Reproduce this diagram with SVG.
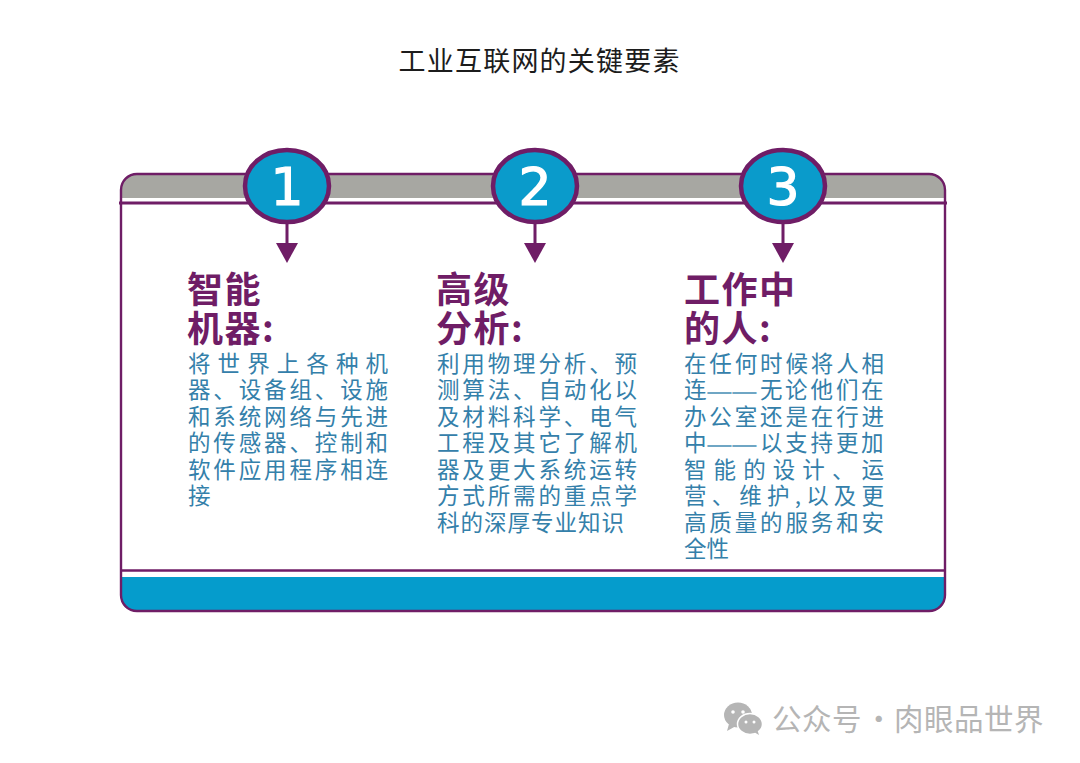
<svg xmlns="http://www.w3.org/2000/svg" width="1080" height="763" viewBox="0 0 1080 763">
<style>
text{font-family:"Noto Sans CJK SC","Liberation Sans",sans-serif}
.t{font-family:"Liberation Serif","Noto Sans CJK SC",serif;font-size:27px;fill:#1c1c1c}
.h{font-size:36px;font-weight:700;fill:#6f1d66;letter-spacing:1.500px}
.b{font-size:22.500px;fill:#3480aa;font-weight:400}
.d{font-size:30px;fill:#6fa6c4}
.n{font-family:"DejaVu Sans",sans-serif;font-size:52px;fill:#fff;stroke:#fff;stroke-width:1.200;text-anchor:middle}
.c{fill:#0a9bcb;stroke:#6f1d66;stroke-width:4.500}
.l{stroke:#6f1d66;fill:none}
.a{fill:#6f1d66}
.w{font-size:29.500px;fill:#b5b5b5;font-weight:400;letter-spacing:.5px}
</style>
<rect width="1080" height="763" fill="#fff"/>
<text class="t" x="539" y="71" text-anchor="middle" textLength="281" lengthAdjust="spacing">工业互联网的关键要素</text>

<g id="panel">
<path d="M121 198V190Q121 174 137 174H929Q945 174 945 190V198Z" fill="#a7a7a2"/>
<path d="M121 577H945V595Q945 611 929 611H137Q121 611 121 595Z" fill="#059ccc"/>
<rect x="121" y="174" width="824" height="437" rx="16" class="l" stroke-width="2.400"/>
<path d="M119 203H947" class="l" stroke-width="3"/>
<path d="M121 570.500H945" class="l" stroke-width="2.500"/>
</g>

<g id="connectors">
<path d="M287 224V245M535 224V245M783 224V245" class="l" stroke-width="3"/>
<path d="M276 243H298L287 263Z" class="a"/>
<path d="M524 243H546L535 263Z" class="a"/>
<path d="M772 243H794L783 263Z" class="a"/>
</g>

<g id="node-1">
<ellipse class="c" cx="287" cy="186" rx="42" ry="36"/>
<text class="n" x="287" y="205">1</text>
<text class="h" x="187" y="303">智能</text>
<text class="h" x="187" y="342">机器:</text>
<text class="b" x="188" y="372" textLength="200">将世界上各种机</text>
<text class="b" x="188" y="398" textLength="200">器、设备组、设施</text>
<text class="b" x="188" y="425" textLength="200">和系统网络与先进</text>
<text class="b" x="188" y="451" textLength="200">的传感器、控制和</text>
<text class="b" x="188" y="478" textLength="200">软件应用程序相连</text>
<text class="b" x="188" y="504">接</text>
</g>

<g id="node-2">
<ellipse class="c" cx="535" cy="186" rx="42" ry="36"/>
<text class="n" x="535" y="205">2</text>
<text class="h" x="436" y="303">高级</text>
<text class="h" x="436" y="342">分析:</text>
<text class="b" x="437" y="372" textLength="200">利用物理分析、预</text>
<text class="b" x="437" y="398" textLength="200">测算法、自动化以</text>
<text class="b" x="437" y="425" textLength="200">及材料科学、电气</text>
<text class="b" x="437" y="451" textLength="200">工程及其它了解机</text>
<text class="b" x="437" y="478" textLength="200">器及更大系统运转</text>
<text class="b" x="437" y="504" textLength="200">方式所需的重点学</text>
<text class="b" x="437" y="531" textLength="187">科的深厚专业知识</text>
</g>

<g id="node-3">
<ellipse class="c" cx="783" cy="186" rx="42" ry="36"/>
<text class="n" x="783" y="205">3</text>
<text class="h" x="684" y="303">工作中</text>
<text class="h" x="684" y="342">的人:</text>
<text class="b" x="684" y="372" textLength="200">在任何时候将人相</text>
<text class="b" x="684" y="398"><tspan x="684">连</tspan><tspan class="d" x="706" y="401">—</tspan><tspan class="d" x="731" y="401">—</tspan><tspan x="760" y="398">无</tspan><tspan x="785">论</tspan><tspan x="810.500">他</tspan><tspan x="836">们</tspan><tspan x="861">在</tspan></text>
<text class="b" x="684" y="425" textLength="200">办公室还是在行进</text>
<text class="b" x="684" y="451"><tspan x="684">中</tspan><tspan class="d" x="706" y="454">—</tspan><tspan class="d" x="731" y="454">—</tspan><tspan x="760" y="451">以</tspan><tspan x="785">支</tspan><tspan x="810.500">持</tspan><tspan x="836">更</tspan><tspan x="861">加</tspan></text>
<text class="b" x="684" y="478" textLength="200">智能的设计、运</text>
<text class="b" x="684" y="504" textLength="200">营、维护,以及更</text>
<text class="b" x="684" y="531" textLength="200">高质量的服务和安</text>
<text class="b" x="684" y="557">全性</text>
</g>

<g id="watermark">
<ellipse cx="738" cy="715" rx="14" ry="12.500" fill="#b5b5b5"/>
<path d="M729 724L727 731L736 726Z" fill="#b5b5b5"/>
<ellipse cx="750" cy="724" rx="12.500" ry="10.500" fill="#b5b5b5" stroke="#fff" stroke-width="1.500"/>
<path d="M754 732L759 735L757 729Z" fill="#b5b5b5"/>
<circle cx="733" cy="712" r="1.800" fill="#fff"/><circle cx="743" cy="712" r="1.800" fill="#fff"/>
<circle cx="746" cy="722" r="1.500" fill="#fff"/><circle cx="754" cy="722" r="1.500" fill="#fff"/>
<text class="w" x="772" y="730">公众号<tspan x="864">·</tspan><tspan x="894">肉眼品世界</tspan></text>
</g>
</svg>
